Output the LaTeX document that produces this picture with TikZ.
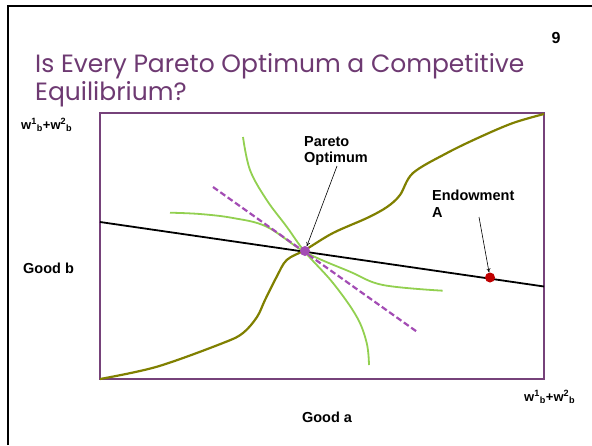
\documentclass[tikz,border=0pt]{standalone}
\usepackage{fontspec}
\setmainfont{Liberation Sans}
\newfontfamily\titlefont{Poppins}
\usetikzlibrary{arrows.meta}
\definecolor{boxpurple}{HTML}{76427A}
\definecolor{olivec}{HTML}{808000}
\definecolor{greenc}{HTML}{92D050}
\definecolor{dashpurple}{HTML}{A34CB4}
\definecolor{titlepurple}{HTML}{6E3A72}
\definecolor{dotred}{HTML}{C00000}
\begin{document}
\begin{tikzpicture}[x=1pt,y=-1pt,
  lbl/.style={font=\bfseries\fontsize{14.5}{16.5}\selectfont, align=left, inner sep=0pt},
  wlbl/.style={font=\bfseries\fontsize{13}{15}\selectfont, inner sep=0pt},
  ttl/.style={font=\titlefont\fontsize{25}{28}\selectfont, text=titlepurple, inner sep=0pt, anchor=base west},
  pointer/.style={line width=0.6pt, -{To[length=4pt,width=4pt]}},
  greencurve/.style={greenc, line width=1.8pt},
  dot/.style={circle, inner sep=0pt, minimum size=10pt}
]
\useasboundingbox (0,0) rectangle (592,445);
\fill[white] (0,0) rectangle (592,445);
\draw[line width=2pt] (8,445) -- (8,6) -- (592,6);
% title
\node[ttl] (t1) at (35,72) {Is Every Pareto Optimum a Competitive};
\node[ttl] (t2) at (35,100) {Equilibrium?};
\node[font=\bfseries\fontsize{16}{18}\selectfont, anchor=base, inner sep=0pt] (num) at (556,43) {9};
% box
\draw[boxpurple, line width=2.2pt] (100,113) rectangle (544,379);
% budget line
\draw[line width=1.8pt] (100,222) -- (544,286.5);
% green indifference curves
\draw[greencurve] plot[smooth, tension=0.6] coordinates {(243,137) (250,170) (266.7,200) (286.7,226.7) (305,252) (333,283) (356.7,316.7) (366.7,343) (369,365)};
\draw[greencurve] plot[smooth, tension=0.6] coordinates {(170,212.7) (200,214) (233,218) (266.7,226.7) (305,252) (350,271.7) (383,285) (442.7,290.7)};
% dashed tangent
\draw[dashpurple, line width=2.2pt, dash pattern=on 6pt off 3pt] (213,187) -- (418,332.5);
% contract curve
\draw[olivec, line width=2.2pt] plot[smooth, tension=0.55] coordinates {(100,379) (157,366.7) (223,343) (243,333) (257,317) (265,300) (276.7,276.7) (286.7,260) (305,250) (333,233) (367,218) (387,207) (400,195) (413,173) (447,153) (480,137) (513,123) (544,114)};
% dots
\node[dot, fill=dashpurple] (pareto) at (305,251) {};
\node[dot, fill=dotred] (endow) at (490,277.5) {};
% labels
\node[lbl, anchor=north west] (po) at (304,136) {Pareto\\Optimum};
\node[lbl, anchor=north west] (ea) at (432,190) {Endowment\\A};
\draw[pointer] (337,166) -- (pareto);
\draw[pointer] (479,217) -- (endow);
\node[lbl, anchor=base west] (gb) at (23,273) {Good b};
\node[lbl, anchor=base] (ga) at (327,422) {Good a};
\node[wlbl, anchor=base west] (wtop) at (21,129) {w\textsuperscript{1}\textsubscript{b}+w\textsuperscript{2}\textsubscript{b}};
\node[wlbl, anchor=base west] (wbot) at (524,401) {w\textsuperscript{1}\textsubscript{b}+w\textsuperscript{2}\textsubscript{b}};
\end{tikzpicture}
\end{document}
